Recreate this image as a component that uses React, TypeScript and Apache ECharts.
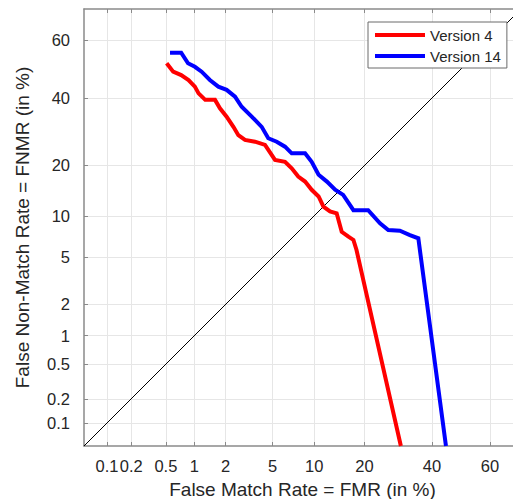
import React, { useEffect, useRef } from "react";
import * as echarts from "echarts";

// Axis ticks (percent) and their labels
const tickPercents = [0.1, 0.2, 0.5, 1, 2, 5, 10, 20, 40, 60];
const tickLabels = ["0.1", "0.2", "0.5", "1", "2", "5", "10", "20", "40", "60"];
const axisMinPct = 0.05;
const axisMaxPct = 70;

// Version 4 (red): FMR and FNMR in %
const v4FMR = [0.51, 0.6, 0.73, 0.87, 1.01, 1.1, 1.28, 1.59, 1.77, 2.04, 2.35, 2.6, 2.97, 3.61, 4.36, 5.23, 6.23, 6.98, 7.78, 8.68, 9.63, 10.7, 11.5, 12.65, 13.9, 14.9, 16.3, 17.4, 18.1, 30.0];
const v4FNMR = [52.0, 49.1, 47.9, 46.2, 43.9, 41.6, 39.4, 39.4, 36.6, 33.9, 30.7, 28.2, 26.8, 26.3, 25.4, 21.4, 20.9, 19.3, 17.4, 16.3, 14.6, 13.3, 11.5, 10.7, 10.4, 7.78, 7.17, 6.79, 5.71, 0.05];

// Version 14 (blue): FMR and FNMR in %
const v14FMR = [0.555, 0.73, 0.86, 1.01, 1.18, 1.42, 1.71, 2.04, 2.43, 2.78, 3.39, 4.1, 4.63, 5.39, 6.23, 6.98, 8.68, 9.63, 10.7, 12.1, 13.6, 15.2, 17.4, 20.9, 24.0, 26.3, 29.7, 32.8, 35.5, 44.8];
const v14FNMR = [55.7, 55.7, 52.0, 50.8, 49.1, 46.2, 43.9, 42.8, 40.5, 37.1, 33.9, 30.7, 27.3, 26.3, 24.9, 23.1, 23.1, 20.9, 17.8, 16.3, 14.6, 13.6, 10.9, 10.9, 8.91, 8.0, 7.91, 7.37, 6.98, 0.05];

// Equal-error diagonal endpoints (in %)
const diagPct = [axisMinPct, axisMaxPct];

// Inverse normal CDF (Acklam) for the probit (DET) scale
function probit(pct: number): number {
  const p = pct / 100;
  const a = [-3.969683028665376e1, 2.209460984245205e2, -2.759285104469687e2, 1.38357751867269e2, -3.066479806614716e1, 2.506628277459239];
  const b = [-5.447609879822406e1, 1.615858368580409e2, -1.556989798598866e2, 6.680131188771972e1, -1.328068155288572e1];
  const c = [-7.784894002430293e-3, -3.223964580411365e-1, -2.400758277161838, -2.549671664286839, 4.374664141464968, 2.938163982698783];
  const d = [7.784695709041462e-3, 3.224671290700398e-1, 2.445134137142996, 3.754408661907416];
  const pl = 0.02425;
  const ph = 1 - pl;
  if (p < pl) {
    const q = Math.sqrt(-2 * Math.log(p));
    return (((((c[0] * q + c[1]) * q + c[2]) * q + c[3]) * q + c[4]) * q + c[5]) / ((((d[0] * q + d[1]) * q + d[2]) * q + d[3]) * q + 1);
  }
  if (p <= ph) {
    const q = p - 0.5;
    const r = q * q;
    return ((((((a[0] * r + a[1]) * r + a[2]) * r + a[3]) * r + a[4]) * r + a[5]) * q) / (((((b[0] * r + b[1]) * r + b[2]) * r + b[3]) * r + b[4]) * r + 1);
  }
  const q = Math.sqrt(-2 * Math.log(1 - p));
  return -(((((c[0] * q + c[1]) * q + c[2]) * q + c[3]) * q + c[4]) * q + c[5]) / ((((d[0] * q + d[1]) * q + d[2]) * q + d[3]) * q + 1);
}

const FONT = "'Liberation Sans', Arial, Helvetica, sans-serif";

export default function App() {
  const ref = useRef<HTMLDivElement>(null);

  useEffect(() => {
    if (!ref.current) return;
    const chart = echarts.init(ref.current, null, { renderer: "svg" });

    const tickProbits = tickPercents.map(probit);
    const fmt = (v: number) => {
      for (let i = 0; i < tickProbits.length; i++) {
        if (Math.abs(tickProbits[i] - v) < 1e-6) return tickLabels[i];
      }
      return "";
    };
    const min = probit(axisMinPct);
    const max = probit(axisMaxPct);
    const axisLineStyle = { color: "#8a8a8a", width: 1.5 };
    const labelStyle = { color: "#262626", fontSize: 16.5, fontFamily: FONT };
    const nameStyle = { color: "#262626", fontSize: 19, fontFamily: FONT };

    const mk = (xs: number[], ys: number[]) => xs.map((x, i) => [probit(x), probit(ys[i])]);

    chart.setOption({
      animation: false,
      backgroundColor: "#ffffff",
      grid: { left: 84, top: 9, width: 437, height: 437, containLabel: false, outerBoundsMode: "none" },
      legend: {
        data: ["Version 4", "Version 14"],
        orient: "vertical",
        left: 368,
        top: 22,
        padding: [5, 6, 4, 7],
        itemGap: 5,
        itemWidth: 50,
        itemHeight: 4,
        icon: "rect",
        backgroundColor: "#ffffff",
        borderColor: "#6a6a6a",
        borderWidth: 1,
        borderRadius: 0,
        textStyle: { fontSize: 15, lineHeight: 16, color: "#262626", fontFamily: FONT },
      },
      xAxis: [
        {
          type: "value",
          min,
          max,
          position: "bottom",
          name: "False Match Rate = FMR (in %)",
          nameLocation: "middle",
          nameGap: 34,
          nameTextStyle: nameStyle,
          axisLine: { show: true, onZero: false, lineStyle: axisLineStyle },
          axisTick: { show: true, inside: true, length: 4, customValues: tickProbits, lineStyle: { color: "#8a8a8a" } },
          axisLabel: { show: true, customValues: tickProbits, formatter: fmt, margin: 11, hideOverlap: false, ...labelStyle },
          splitLine: { show: true, lineStyle: { color: "#e6e6e6", width: 1 } },
        },
        {
          type: "value",
          min,
          max,
          position: "top",
          axisLine: { show: true, onZero: false, lineStyle: axisLineStyle },
          axisTick: { show: true, inside: true, length: 4, customValues: tickProbits, lineStyle: { color: "#8a8a8a" } },
          axisLabel: { show: false },
          splitLine: { show: false },
        },
      ],
      yAxis: [
        {
          type: "value",
          min,
          max,
          position: "left",
          name: "False Non-Match Rate = FNMR (in %)",
          nameLocation: "middle",
          nameRotate: 90,
          nameGap: 52,
          nameTextStyle: nameStyle,
          axisLine: { show: true, onZero: false, lineStyle: axisLineStyle },
          axisTick: { show: true, inside: true, length: 4, customValues: tickProbits, lineStyle: { color: "#8a8a8a" } },
          axisLabel: { show: true, customValues: tickProbits, formatter: fmt, margin: 14, ...labelStyle },
          splitLine: { show: true, lineStyle: { color: "#e6e6e6", width: 1 } },
        },
        {
          type: "value",
          min,
          max,
          position: "right",
          axisLine: { show: true, onZero: false, lineStyle: axisLineStyle },
          axisTick: { show: true, inside: true, length: 4, customValues: tickProbits },
          axisLabel: { show: false },
          splitLine: { show: false },
        },
      ],
      series: [
        {
          name: "diagonal",
          type: "line",
          xAxisIndex: 0,
          yAxisIndex: 0,
          data: mk(diagPct, diagPct),
          symbol: "none",
          lineStyle: { color: "#000000", width: 1 },
          silent: true,
          z: 1,
        },
        {
          name: "Version 4",
          type: "line",
          xAxisIndex: 0,
          yAxisIndex: 0,
          data: mk(v4FMR, v4FNMR),
          symbol: "none",
          itemStyle: { color: "#ff0000" },
          lineStyle: { color: "#ff0000", width: 4, join: "miter" },
          z: 3,
        },
        {
          name: "Version 14",
          type: "line",
          xAxisIndex: 0,
          yAxisIndex: 0,
          data: mk(v14FMR, v14FNMR),
          symbol: "none",
          itemStyle: { color: "#0000ff" },
          lineStyle: { color: "#0000ff", width: 4, join: "miter" },
          z: 2,
        },
      ],
    });

    return () => chart.dispose();
  }, []);

  return (
    <div
      ref={ref}
      style={{ position: "fixed", left: 0, top: 0, width: 513, height: 499, background: "#ffffff" }}
    />
  );
}
